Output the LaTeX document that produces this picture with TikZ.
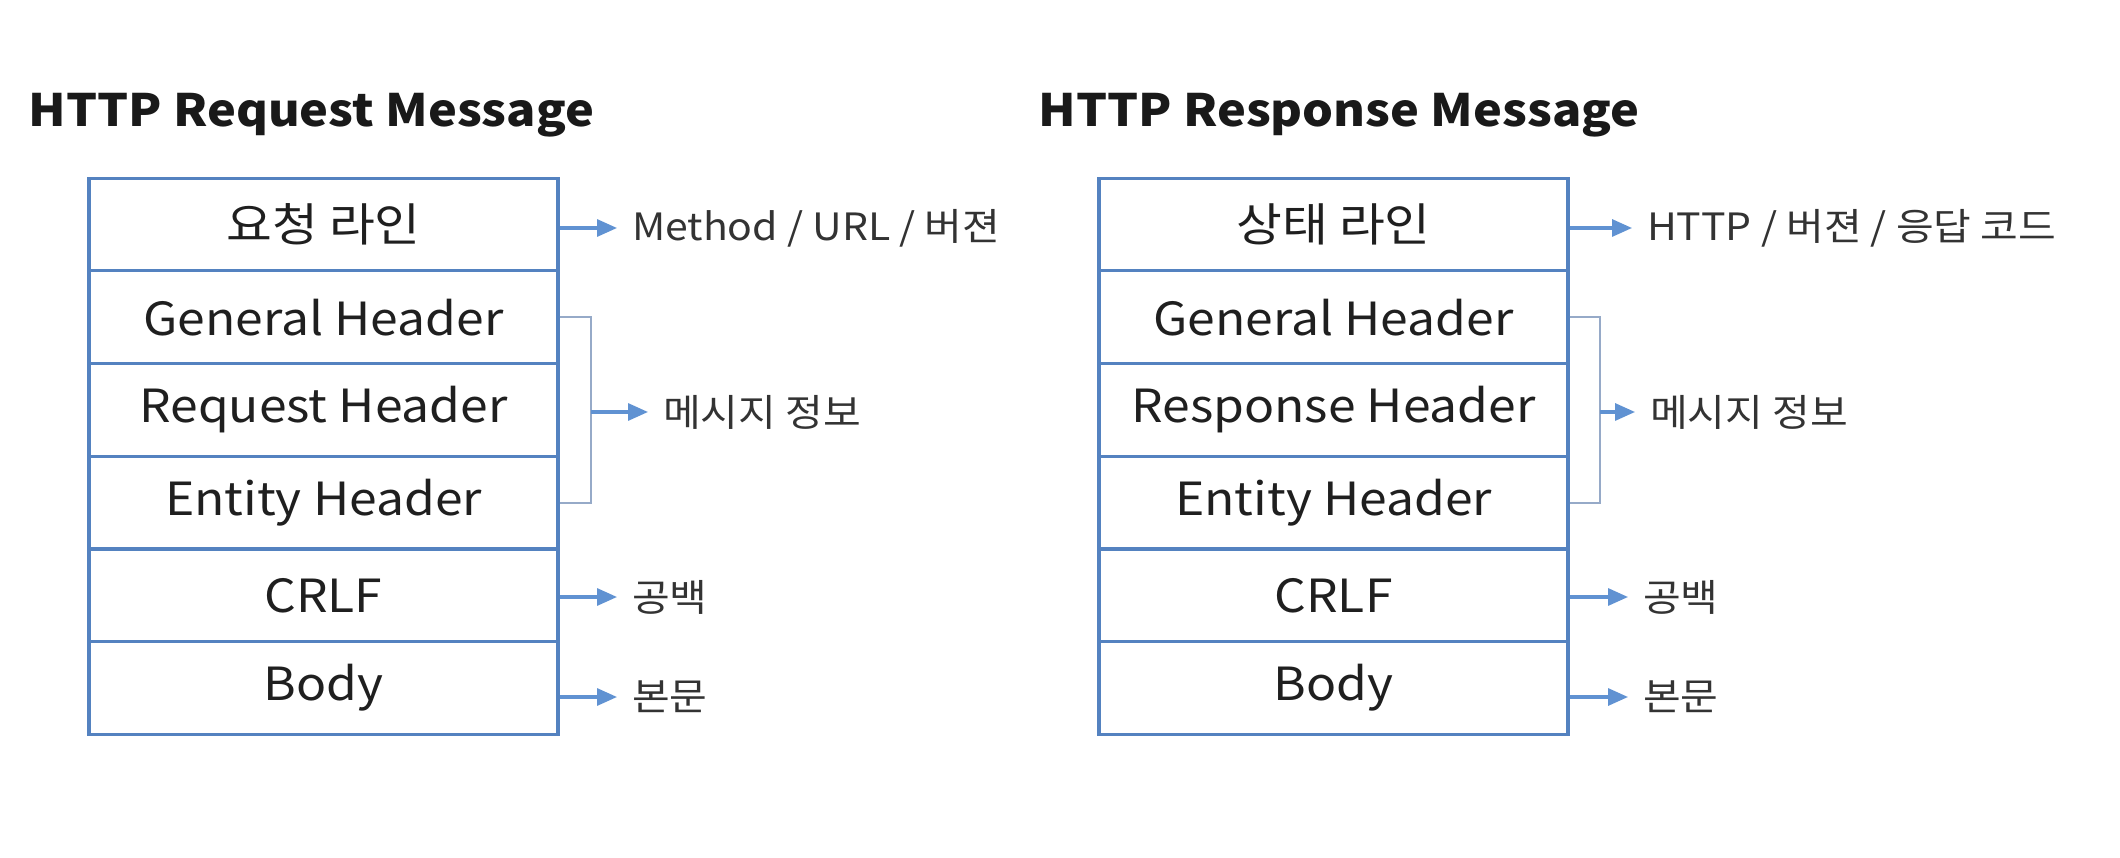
\documentclass[tikz,border=0pt]{standalone}
\usepackage{fontspec}
\setmainfont[FakeStretch=1.09]{Noto Sans CJK KR}
\usetikzlibrary{arrows.meta}
\definecolor{boxblue}{RGB}{84,130,192}
\definecolor{arrowblue}{RGB}{96,146,210}
\definecolor{bracegray}{RGB}{150,170,200}
\tikzset{
  rowbox/.style={draw=boxblue, line width=0.9pt, minimum width=4.69cm, minimum height=0.927cm,
    inner sep=0pt, font=\fontsize{13}{15}\selectfont, text=black!88},
  msgtitle/.style={anchor=base west, inner sep=0pt, font=\bfseries\fontsize{12.7}{15}\selectfont, text=black!90},
  note/.style={anchor=west, inner sep=0pt, outer xsep=0.15cm, font=\fontsize{10.7}{12}\selectfont, text=black!80},
  pointer/.style={draw=arrowblue, line width=0.9pt, -{Triangle[length=0.2cm,width=0.17cm]}},
  brace/.style={draw=bracegray, line width=0.6pt}
}
\begin{document}
\begin{tikzpicture}
\useasboundingbox (0,0) rectangle (21.2,-8.58);

% request message
\node[msgtitle] (tq) at (0.28,-1.27) {HTTP Request Message};
\node[rowbox] (q1) at (3.235,-2.245) {요청 라인};
\node[rowbox] (q2) at (3.235,-3.172) {General Header};
\node[rowbox] (q3) at (3.235,-4.099) {Request Header};
\node[rowbox] (q4) at (3.235,-5.026) {Entity Header};
\node[rowbox] (q5) at (3.235,-5.953) {CRLF};
\node[rowbox] (q6) at (3.235,-6.880) {Body};

\node[note] (nq1) at (6.17,-2.28) {Method / URL / 버젼};
\coordinate (bq) at (5.91,-4.12);
\node[note] (nq2) at (6.48,-4.12) {메시지 정보};
\node[note] (nq5) at (6.17,-5.97) {공백};
\node[note] (nq6) at (6.17,-6.97) {본문};

\draw[pointer] (q1.east |- nq1.west) -- (nq1.west);
\draw[brace] (q2.east) -| (bq) |- (q4.east);
\draw[pointer] (bq) -- (nq2.west);
\draw[pointer] (q5.east |- nq5.west) -- (nq5.west);
\draw[pointer] (q6.east |- nq6.west) -- (nq6.west);

% response message
\node[msgtitle] (tr) at (10.38,-1.27) {HTTP Response Message};
\node[rowbox] (r1) at (13.335,-2.245) {상태 라인};
\node[rowbox] (r2) at (13.335,-3.172) {General Header};
\node[rowbox] (r3) at (13.335,-4.099) {Response Header};
\node[rowbox] (r4) at (13.335,-5.026) {Entity Header};
\node[rowbox] (r5) at (13.335,-5.953) {CRLF};
\node[rowbox] (r6) at (13.335,-6.880) {Body};

\node[note] (nr1) at (16.32,-2.28) {HTTP / 버젼 / 응답 코드};
\coordinate (br) at (16.0,-4.12);
\node[note] (nr2) at (16.35,-4.12) {메시지 정보};
\node[note] (nr5) at (16.28,-5.97) {공백};
\node[note] (nr6) at (16.28,-6.97) {본문};

\draw[pointer] (r1.east |- nr1.west) -- (nr1.west);
\draw[brace] (r2.east) -| (br) |- (r4.east);
\draw[pointer] (br) -- (nr2.west);
\draw[pointer] (r5.east |- nr5.west) -- (nr5.west);
\draw[pointer] (r6.east |- nr6.west) -- (nr6.west);
\end{tikzpicture}
\end{document}
